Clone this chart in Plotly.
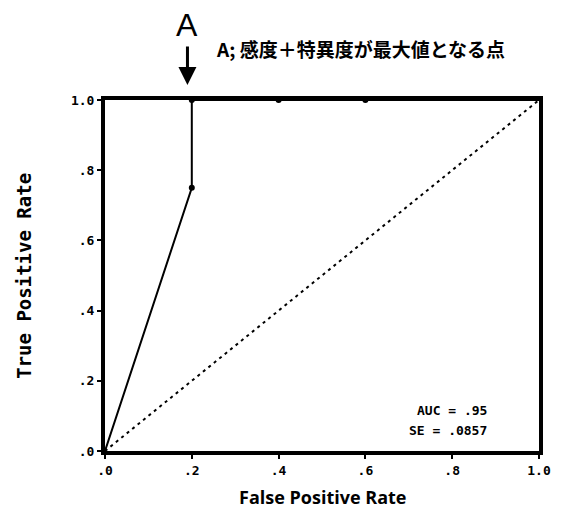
import plotly.graph_objects as go

fpr = [0.0, 0.2, 0.2, 0.4, 0.6, 1.0]
tpr = [0.0, 0.75, 1.0, 1.0, 1.0, 1.0]
marker_fpr = [0.2, 0.2, 0.4, 0.6]
marker_tpr = [0.75, 1.0, 1.0, 1.0]
diag = [0.0, 1.0]
tick_vals = [0.0, 0.2, 0.4, 0.6, 0.8, 1.0]
tick_text = [".0", ".2", ".4", ".6", ".8", "1.0"]
auc_text = "AUC = .95"
se_text = "SE = .0857"

fig = go.Figure()
fig.add_trace(go.Scatter(x=diag, y=diag, mode="lines",
                         line=dict(color="black", width=2, dash="3px,4px"),
                         hoverinfo="skip", showlegend=False))
fig.add_trace(go.Scatter(x=fpr, y=tpr, mode="lines",
                         line=dict(color="black", width=2),
                         showlegend=False))
fig.add_trace(go.Scatter(x=marker_fpr, y=marker_tpr, mode="markers",
                         marker=dict(color="black", size=6),
                         showlegend=False))

tickfont = dict(family="DejaVu Sans Mono", size=13, color="black", weight="bold")
axis_common = dict(range=[0, 1], tickvals=tick_vals, ticktext=tick_text,
                   showgrid=False, zeroline=False, showline=True,
                   linecolor="black", linewidth=4, mirror=True,
                   ticks="outside", ticklen=4, tickwidth=2, tickcolor="black",
                   tickfont=tickfont)

fig.update_layout(
    width=563, height=508,
    margin=dict(l=105, r=17, t=100, b=57),
    paper_bgcolor="white", plot_bgcolor="white",
    xaxis=dict(**axis_common),
    yaxis=dict(**axis_common),
)

# axis titles
fig.add_annotation(xref="paper", yref="paper", x=0.5, y=-0.13, yanchor="middle",
                   xanchor="center", showarrow=False,
                   text="<b>False Positive Rate</b>",
                   font=dict(family="Open Sans", size=18, color="black"))
fig.add_annotation(xref="paper", yref="paper", x=-83 / 441, y=0.5, xanchor="center",
                   yanchor="middle", textangle=-90, showarrow=False,
                   text="<b>True Positive Rate</b>",
                   font=dict(family="DejaVu Sans Mono", size=19, color="black"))

fig.add_annotation(x=0.885, y=0.115, xref="x", yref="y", text="<b>" + auc_text + "</b>",
                   showarrow=False, xanchor="right",
                   font=dict(family="DejaVu Sans Mono", size=13, color="black"))
fig.add_annotation(x=0.885, y=0.058, xref="x", yref="y", text="<b>" + se_text + "</b>",
                   showarrow=False, xanchor="right",
                   font=dict(family="DejaVu Sans Mono", size=13, color="black"))

# "A" label with down arrow pointing to the optimal point
fig.add_annotation(x=0.19, y=1.043, xref="x", yref="paper", ax=0, ay=-40,
                   text="", showarrow=True, arrowhead=2, arrowsize=1.2, arrowwidth=3,
                   arrowcolor="black")
fig.add_annotation(x=0.19, y=(451 - 25) / 351, xref="x", yref="paper", text="A",
                   showarrow=False, yanchor="middle", borderpad=0,
                   font=dict(family="Liberation Sans", size=32, color="black"))
fig.add_annotation(xref="paper", yref="paper", x=0.25, y=(451 - 48) / 351,
                   xanchor="left", yanchor="middle", showarrow=False,
                   text="<b>A; 感度＋特異度が最大値となる点</b>",
                   font=dict(family="Noto Sans CJK JP", size=19, color="black"))

fig.write_html("out.html")
